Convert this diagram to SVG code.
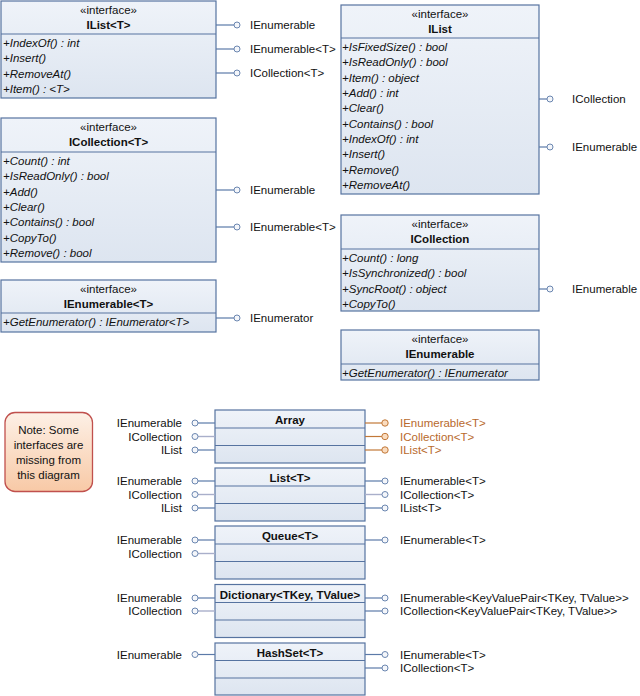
<svg xmlns="http://www.w3.org/2000/svg" width="640" height="696" viewBox="0 0 640 696">
<defs>
<linearGradient id="bg" x1="0" y1="0" x2="0" y2="1">
<stop offset="0" stop-color="#eff3f9"/>
<stop offset="1" stop-color="#dde5f0"/>
</linearGradient>
<linearGradient id="ng" x1="0" y1="0" x2="0" y2="1">
<stop offset="0" stop-color="#fdf0e6"/>
<stop offset="1" stop-color="#f8c9a6"/>
</linearGradient>
<style>
text{font-family:"Liberation Sans",Arial,sans-serif;font-size:11.5px;fill:#111}
.box{fill:url(#bg);stroke:#5673a0;stroke-width:1.2}
.dv{stroke:#5673a0;stroke-width:1.2}
.c{text-anchor:middle}
.b{font-weight:bold}
.m{font-style:italic}
.e{text-anchor:end}
.o{fill:#b8692c}
.ln{stroke:#5b7aa8;stroke-width:1.2;fill:none}
.lt{stroke:#a9afca;stroke-width:1.4;fill:none}
.lo{stroke:#c27838;stroke-width:1.2;fill:none}
.ci{fill:#f4f6fa;stroke:#6b86b0;stroke-width:1}
.co{fill:#fadcbf;stroke:#c27838;stroke-width:1}
.note{fill:url(#ng);stroke:#c0504d;stroke-width:1.3}
</style>
</defs>

<g id="IListT">
<rect class="box" x="1" y="1" width="215" height="97"/>
<line class="dv" x1="1" y1="34" x2="216" y2="34"/>
<text class="c" x="108.5" y="14">«interface»</text>
<text class="c b" x="108.5" y="29">IList&lt;T&gt;</text>
<text class="m" x="3" y="47">+IndexOf() : int</text>
<text class="m" x="3" y="62.35">+Insert()</text>
<text class="m" x="3" y="77.7">+RemoveAt()</text>
<text class="m" x="3" y="93.05">+Item() : &lt;T&gt;</text>
</g>

<g id="IList">
<rect class="box" x="341" y="5" width="198" height="189"/>
<line class="dv" x1="341" y1="38" x2="539" y2="38"/>
<text class="c" x="440" y="18">«interface»</text>
<text class="c b" x="440" y="33">IList</text>
<text class="m" x="342" y="51">+IsFixedSize() : bool</text>
<text class="m" x="342" y="66.35">+IsReadOnly() : bool</text>
<text class="m" x="342" y="81.7">+Item() : object</text>
<text class="m" x="342" y="97.05">+Add() : int</text>
<text class="m" x="342" y="112.4">+Clear()</text>
<text class="m" x="342" y="127.75">+Contains() : bool</text>
<text class="m" x="342" y="143.1">+IndexOf() : int</text>
<text class="m" x="342" y="158.45">+Insert()</text>
<text class="m" x="342" y="173.8">+Remove()</text>
<text class="m" x="342" y="189.15">+RemoveAt()</text>
</g>

<g id="ICollectionT">
<rect class="box" x="1" y="118" width="215" height="144"/>
<line class="dv" x1="1" y1="152" x2="216" y2="152"/>
<text class="c" x="108.5" y="131">«interface»</text>
<text class="c b" x="108.5" y="146">ICollection&lt;T&gt;</text>
<text class="m" x="3" y="165">+Count() : int</text>
<text class="m" x="3" y="180.35">+IsReadOnly() : bool</text>
<text class="m" x="3" y="195.7">+Add()</text>
<text class="m" x="3" y="211.05">+Clear()</text>
<text class="m" x="3" y="226.4">+Contains() : bool</text>
<text class="m" x="3" y="241.75">+CopyTo()</text>
<text class="m" x="3" y="257.1">+Remove() : bool</text>
</g>

<g id="IEnumerableT">
<rect class="box" x="1" y="280" width="215" height="52"/>
<line class="dv" x1="1" y1="313" x2="216" y2="313"/>
<text class="c" x="108.5" y="293">«interface»</text>
<text class="c b" x="108.5" y="308">IEnumerable&lt;T&gt;</text>
<text class="m" x="3" y="326">+GetEnumerator() : IEnumerator&lt;T&gt;</text>
</g>

<g id="ICollection">
<rect class="box" x="341" y="215" width="198" height="96"/>
<line class="dv" x1="341" y1="249" x2="539" y2="249"/>
<text class="c" x="440" y="228">«interface»</text>
<text class="c b" x="440" y="243">ICollection</text>
<text class="m" x="342" y="262">+Count() : long</text>
<text class="m" x="342" y="277.35">+IsSynchronized() : bool</text>
<text class="m" x="342" y="292.7">+SyncRoot() : object</text>
<text class="m" x="342" y="308.05">+CopyTo()</text>
</g>

<g id="IEnumerable">
<rect class="box" x="341" y="330" width="198" height="50"/>
<line class="dv" x1="341" y1="364" x2="539" y2="364"/>
<text class="c" x="440" y="343">«interface»</text>
<text class="c b" x="440" y="358">IEnumerable</text>
<text class="m" x="342" y="377">+GetEnumerator() : IEnumerator</text>
</g>

<g id="note">
<rect class="note" x="5" y="412.5" width="87.5" height="79" rx="10"/>
<text class="c" x="48.5" y="433.5">Note: Some</text>
<text class="c" x="48.5" y="448.5">interfaces are</text>
<text class="c" x="48.5" y="463.5">missing from</text>
<text class="c" x="48.5" y="478.5">this diagram</text>
</g>

<g id="Array">
<rect class="box" x="215" y="410" width="150" height="53"/>
<line class="dv" x1="215" y1="428" x2="365" y2="428"/>
<line class="dv" x1="215" y1="445.5" x2="365" y2="445.5"/>
<text class="c b" x="290" y="424">Array</text>
</g>

<g id="ListT">
<rect class="box" x="215" y="468" width="150" height="53"/>
<line class="dv" x1="215" y1="486" x2="365" y2="486"/>
<line class="dv" x1="215" y1="503.5" x2="365" y2="503.5"/>
<text class="c b" x="290" y="482">List&lt;T&gt;</text>
</g>

<g id="QueueT">
<rect class="box" x="215" y="526" width="150" height="53"/>
<line class="dv" x1="215" y1="544" x2="365" y2="544"/>
<line class="dv" x1="215" y1="561.5" x2="365" y2="561.5"/>
<text class="c b" x="290" y="540">Queue&lt;T&gt;</text>
</g>

<g id="Dictionary">
<rect class="box" x="215" y="584.5" width="150" height="53"/>
<line class="dv" x1="215" y1="602.5" x2="365" y2="602.5"/>
<line class="dv" x1="215" y1="620" x2="365" y2="620"/>
<text class="c b" x="290" y="598.5">Dictionary&lt;TKey, TValue&gt;</text>
</g>

<g id="HashSetT">
<rect class="box" x="215" y="643" width="150" height="52"/>
<line class="dv" x1="215" y1="660.5" x2="365" y2="660.5"/>
<line class="dv" x1="215" y1="678" x2="365" y2="678"/>
<text class="c b" x="290" y="657">HashSet&lt;T&gt;</text>
</g>

<g id="connectors">
<!-- IList<T> -->
<line class="ln" x1="216" y1="25" x2="234" y2="25"/><circle class="ci" cx="237" cy="25" r="3"/>
<line class="ln" x1="216" y1="49" x2="234" y2="49"/><circle class="ci" cx="237" cy="49" r="3"/>
<line class="ln" x1="216" y1="73" x2="234" y2="73"/><circle class="ci" cx="237" cy="73" r="3"/>
<text x="250" y="29">IEnumerable</text>
<text x="250" y="53">IEnumerable&lt;T&gt;</text>
<text x="250" y="77">ICollection&lt;T&gt;</text>
<!-- IList -->
<line class="ln" x1="539" y1="99" x2="547" y2="99"/><circle class="ci" cx="550" cy="99" r="3"/>
<line class="ln" x1="539" y1="147" x2="547" y2="147"/><circle class="ci" cx="550" cy="147" r="3"/>
<text x="572" y="103">ICollection</text>
<text x="572" y="151">IEnumerable</text>
<!-- ICollection<T> -->
<line class="ln" x1="216" y1="190" x2="234" y2="190"/><circle class="ci" cx="237" cy="190" r="3"/>
<line class="ln" x1="216" y1="227" x2="234" y2="227"/><circle class="ci" cx="237" cy="227" r="3"/>
<text x="250" y="194">IEnumerable</text>
<text x="250" y="231">IEnumerable&lt;T&gt;</text>
<!-- IEnumerable<T> -->
<line class="ln" x1="216" y1="318" x2="234" y2="318"/><circle class="ci" cx="237" cy="318" r="3"/>
<text x="250" y="322">IEnumerator</text>
<!-- ICollection -->
<line class="ln" x1="539" y1="289" x2="547" y2="289"/><circle class="ci" cx="550" cy="289" r="3"/>
<text x="572" y="293">IEnumerable</text>

<!-- Array -->
<line class="ln" x1="198" y1="423" x2="215" y2="423"/><circle class="ci" cx="195" cy="423" r="3"/>
<line class="lt" x1="198" y1="436.5" x2="215" y2="436.5"/><circle class="ci" cx="195" cy="436.5" r="3"/>
<line class="ln" x1="198" y1="450" x2="215" y2="450"/><circle class="ci" cx="195" cy="450" r="3"/>
<text class="e" x="182" y="427">IEnumerable</text>
<text class="e" x="182" y="440.5">ICollection</text>
<text class="e" x="182" y="454">IList</text>
<line class="lo" x1="365" y1="423" x2="382" y2="423"/><circle class="co" cx="385" cy="423" r="3.2"/>
<line class="lo" x1="365" y1="436.5" x2="382" y2="436.5"/><circle class="co" cx="385" cy="436.5" r="3.2"/>
<line class="lo" x1="365" y1="450" x2="382" y2="450"/><circle class="co" cx="385" cy="450" r="3.2"/>
<text class="o" x="400" y="427">IEnumerable&lt;T&gt;</text>
<text class="o" x="400" y="440.5">ICollection&lt;T&gt;</text>
<text class="o" x="400" y="454">IList&lt;T&gt;</text>

<!-- List<T> -->
<line class="ln" x1="198" y1="481" x2="215" y2="481"/><circle class="ci" cx="195" cy="481" r="3"/>
<line class="lt" x1="198" y1="494.5" x2="215" y2="494.5"/><circle class="ci" cx="195" cy="494.5" r="3"/>
<line class="ln" x1="198" y1="508" x2="215" y2="508"/><circle class="ci" cx="195" cy="508" r="3"/>
<text class="e" x="182" y="485">IEnumerable</text>
<text class="e" x="182" y="498.5">ICollection</text>
<text class="e" x="182" y="512">IList</text>
<line class="ln" x1="365" y1="481" x2="382" y2="481"/><circle class="ci" cx="385" cy="481" r="3"/>
<line class="lt" x1="365" y1="494.5" x2="382" y2="494.5"/><circle class="ci" cx="385" cy="494.5" r="3"/>
<line class="ln" x1="365" y1="508" x2="382" y2="508"/><circle class="ci" cx="385" cy="508" r="3"/>
<text x="400" y="485">IEnumerable&lt;T&gt;</text>
<text x="400" y="498.5">ICollection&lt;T&gt;</text>
<text x="400" y="512">IList&lt;T&gt;</text>

<!-- Queue<T> -->
<line class="ln" x1="198" y1="540" x2="215" y2="540"/><circle class="ci" cx="195" cy="540" r="3"/>
<line class="lt" x1="198" y1="553.5" x2="215" y2="553.5"/><circle class="ci" cx="195" cy="553.5" r="3"/>
<text class="e" x="182" y="544">IEnumerable</text>
<text class="e" x="182" y="557.5">ICollection</text>
<line class="ln" x1="365" y1="540" x2="382" y2="540"/><circle class="ci" cx="385" cy="540" r="3"/>
<text x="400" y="544">IEnumerable&lt;T&gt;</text>

<!-- Dictionary -->
<line class="ln" x1="198" y1="598" x2="215" y2="598"/><circle class="ci" cx="195" cy="598" r="3"/>
<line class="lt" x1="198" y1="611" x2="215" y2="611"/><circle class="ci" cx="195" cy="611" r="3"/>
<text class="e" x="182" y="602">IEnumerable</text>
<text class="e" x="182" y="615">ICollection</text>
<line class="ln" x1="365" y1="598" x2="382" y2="598"/><circle class="ci" cx="385" cy="598" r="3"/>
<line class="ln" x1="365" y1="611" x2="382" y2="611"/><circle class="ci" cx="385" cy="611" r="3"/>
<text x="400" y="602">IEnumerable&lt;KeyValuePair&lt;TKey, TValue&gt;&gt;</text>
<text x="400" y="615">ICollection&lt;KeyValuePair&lt;TKey, TValue&gt;&gt;</text>

<!-- HashSet<T> -->
<line class="ln" x1="198" y1="654.5" x2="215" y2="654.5"/><circle class="ci" cx="195" cy="654.5" r="3"/>
<text class="e" x="182" y="658.5">IEnumerable</text>
<line class="ln" x1="365" y1="654.5" x2="382" y2="654.5"/><circle class="ci" cx="385" cy="654.5" r="3"/>
<line class="ln" x1="365" y1="668" x2="382" y2="668"/><circle class="ci" cx="385" cy="668" r="3"/>
<text x="400" y="658.5">IEnumerable&lt;T&gt;</text>
<text x="400" y="672">ICollection&lt;T&gt;</text>
</g>
</svg>
